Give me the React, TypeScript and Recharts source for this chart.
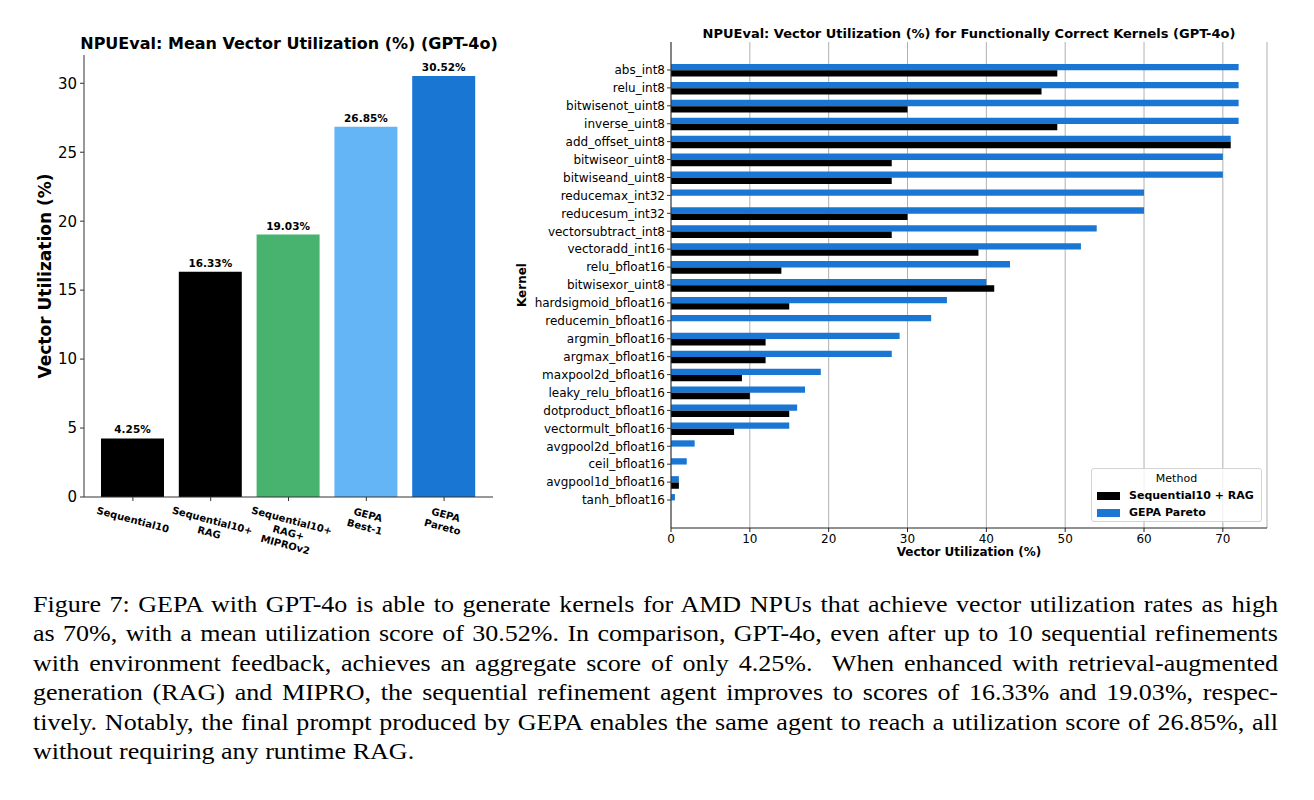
import * as React from 'react';
import {
    BarChart,
    Bar,
    XAxis,
    YAxis,
    CartesianGrid,
    Cell,
    LabelList,
    Label
} from 'recharts';

// left panel: mean utilisation per method
const methods = [
    'Sequential10',
    'Sequential10+\nRAG',
    'Sequential10+\nRAG+\nMIPROv2',
    'GEPA\nBest-1',
    'GEPA\nPareto'
];
const meanUtil = [4.25, 16.33, 19.03, 26.85, 30.52];
const meanTicks = [0, 5, 10, 15, 20, 25, 30];

// right panel: per-kernel utilisation
const kernels = [
    'abs_int8', 'relu_int8', 'bitwisenot_uint8', 'inverse_uint8', 'add_offset_uint8',
    'bitwiseor_uint8', 'bitwiseand_uint8', 'reducemax_int32', 'reducesum_int32',
    'vectorsubtract_int8', 'vectoradd_int16', 'relu_bfloat16', 'bitwisexor_uint8',
    'hardsigmoid_bfloat16', 'reducemin_bfloat16', 'argmin_bfloat16', 'argmax_bfloat16',
    'maxpool2d_bfloat16', 'leaky_relu_bfloat16', 'dotproduct_bfloat16', 'vectormult_bfloat16',
    'avgpool2d_bfloat16', 'ceil_bfloat16', 'avgpool1d_bfloat16', 'tanh_bfloat16'
];
const seqRag = [49, 47, 30, 49, 71, 28, 28, 0, 30, 28, 39, 14, 41, 15, 0, 12, 12, 9, 10, 15, 8, 0, 0, 1, 0];
const gepaPareto = [72, 72, 72, 72, 71, 70, 70, 60, 60, 54, 52, 43, 40, 35, 33, 29, 28, 19, 17, 16, 15, 3, 2, 1, 0.5];
const kernelTicks = [0, 10, 20, 30, 40, 50, 60, 70];
const seriesNames = ['Sequential10 + RAG', 'GEPA Pareto'];

const methodColors = ['#000000', '#000000', '#48b36e', '#64b5f6', '#1976d2'];
const seqColor = '#000000';
const gepaColor = '#1976d2';
const FONT = '"DejaVu Sans", sans-serif';

const meanData = methods.map((m, i) => ({ method: m, value: meanUtil[i] }));
const kernelData = kernels.map((k, i) => ({ kernel: k, seq: seqRag[i], gepa: gepaPareto[i] }));

const MethodTick = (props: any) => {
    const { x, y, payload } = props;
    const lines = String(payload.value).split('\n');
    const lh = 12.5;
    const a = (15 * Math.PI) / 180;
    const w = Math.max(...lines.map((l) => l.length)) * 6.2;
    const h = w * Math.sin(a) + lines.length * lh * Math.cos(a);
    return (
        <g transform={`translate(${x},${y + h / 2}) rotate(15)`}>
            {lines.map((l, i) => (
                <text
                    key={i}
                    x={0}
                    y={(i - (lines.length - 1) / 2) * lh}
                    textAnchor="middle"
                    dominantBaseline="central"
                    fontSize={10}
                    fontWeight="bold"
                    fontFamily={FONT}
                    fill="#000"
                >
                    {l}
                </text>
            ))}
        </g>
    );
};

const MeanChart = () => (
    <BarChart
        width={510}
        height={570}
        data={meanData}
        margin={{ top: 55, right: 17, bottom: 13, left: 44 }}
        style={{ fontFamily: FONT }}
    >
        <XAxis
            dataKey="method"
            interval={0}
            height={60}
            padding={{ left: 10, right: 10 }}
            tick={<MethodTick />}
            tickSize={4}
            tickMargin={3}
            axisLine={{ stroke: '#333' }}
            tickLine={{ stroke: '#333' }}
        />
        <XAxis
            xAxisId="top"
            orientation="top"
            dataKey="method"
            height={0}
            tick={false}
            tickLine={false}
            axisLine={{ stroke: '#333' }}
        />
        <YAxis
            width={40}
            domain={[0, 32.05]}
            ticks={meanTicks}
            tickSize={4}
            tickMargin={3}
            tick={{ fill: '#000', fontSize: 15 }}
            axisLine={{ stroke: '#333' }}
            tickLine={{ stroke: '#333' }}
        >
            <Label
                content={({ viewBox }: any) => {
                    const cx = 45;
                    const cy = viewBox.y + viewBox.height / 2;
                    return (
                        <text
                            x={cx}
                            y={cy}
                            transform={`rotate(-90, ${cx}, ${cy})`}
                            textAnchor="middle"
                            dominantBaseline="central"
                            fontSize={17}
                            fontWeight="bold"
                            fontFamily={FONT}
                            fill="#000"
                        >
                            Vector Utilization (%)
                        </text>
                    );
                }}
            />
        </YAxis>
        <YAxis
            yAxisId="right"
            orientation="right"
            width={0}
            domain={[0, 32.05]}
            tick={false}
            tickLine={false}
            axisLine={{ stroke: '#333' }}
        />
        <Bar dataKey="value" barSize={63} isAnimationActive={false}>
            {meanData.map((d, i) => (
                <Cell key={d.method} fill={methodColors[i]} />
            ))}
            <LabelList
                dataKey="value"
                position="top"
                offset={5}
                formatter={(v: any) => `${Number(v).toFixed(2)}%`}
                style={{ fontSize: 10.5, fontWeight: 'bold', fill: '#000', fontFamily: FONT }}
            />
        </Bar>
    </BarChart>
);

const KernelChart = () => (
    <BarChart
        layout="vertical"
        width={785}
        height={580}
        data={kernelData}
        margin={{ top: 42, right: 23, bottom: 22, left: 36 }}
        barGap={0}
        style={{ fontFamily: FONT }}
    >
        <XAxis
            type="number"
            domain={[0, 75.6]}
            ticks={kernelTicks}
            height={30}
            tickSize={4}
            tickMargin={2}
            tick={{ fill: '#000', fontSize: 12 }}
            axisLine={{ stroke: '#222' }}
            tickLine={{ stroke: '#222' }}
        >
            <Label
                content={({ viewBox }: any) => (
                    <text
                        x={viewBox.x + viewBox.width / 2}
                        y={552}
                        textAnchor="middle"
                        dominantBaseline="central"
                        fontSize={12}
                        fontWeight="bold"
                        fontFamily={FONT}
                        fill="#000"
                    >
                        Vector Utilization (%)
                    </text>
                )}
            />
        </XAxis>
        <YAxis
            type="category"
            dataKey="kernel"
            width={130}
            interval={0}
            padding={{ top: 19, bottom: 19 }}
            tickSize={4}
            tickMargin={2}
            tick={{ fill: '#000', fontSize: 12 }}
            axisLine={{ stroke: '#333' }}
            tickLine={{ stroke: '#333' }}
        >
            <Label
                content={({ viewBox }: any) => {
                    const cx = 17;
                    const cy = viewBox.y + viewBox.height / 2;
                    return (
                        <text
                            x={cx}
                            y={cy}
                            transform={`rotate(-90, ${cx}, ${cy})`}
                            textAnchor="middle"
                            dominantBaseline="central"
                            fontSize={12}
                            fontWeight="bold"
                            fontFamily={FONT}
                            fill="#000"
                        >
                            Kernel
                        </text>
                    );
                }}
            />
        </YAxis>
        <Bar dataKey="gepa" name={seriesNames[1]} fill={gepaColor} barSize={6.3} isAnimationActive={false} />
        <Bar dataKey="seq" name={seriesNames[0]} fill={seqColor} barSize={6.3} isAnimationActive={false} />
        <CartesianGrid horizontal={false} stroke="#b0b0b0" strokeWidth={1} />
    </BarChart>
);

const captionLines = [
    'Figure 7: GEPA with GPT-4o is able to generate kernels for AMD NPUs that achieve vector utilization rates as high',
    'as 70%, with a mean utilization score of 30.52%. In comparison, GPT-4o, even after up to 10 sequential refinements',
    'with environment feedback, achieves an aggregate score of only 4.25%.\u00a0 When enhanced with retrieval-augmented',
    'generation (RAG) and MIPRO, the sequential refinement agent improves to scores of 16.33% and 19.03%, respec-',
    'tively. Notably, the final prompt produced by GEPA enables the same agent to reach a utilization score of 26.85%, all',
    'without requiring any runtime RAG.'
];

const Legendbox = () => (
    <div
        style={{
            position: 'absolute',
            left: 1091,
            top: 468,
            width: 171,
            height: 54,
            boxSizing: 'border-box',
            border: '1px solid #d4d4d4',
            borderRadius: 3,
            background: 'rgba(255,255,255,0.8)',
            fontFamily: FONT,
            fontSize: 11,
            color: '#000'
        }}
    >
        <div style={{ position: 'absolute', left: 0, width: '100%', top: 3, textAlign: 'center', lineHeight: '14px' }}>
            Method
        </div>
        {[seqColor, gepaColor].map((c, i) => (
            <div key={i} style={{ position: 'absolute', left: 5, top: 20 + i * 17, height: 14, display: 'flex', alignItems: 'center' }}>
                <span style={{ display: 'inline-block', width: 23, height: 8, background: c, marginRight: 9 }} />
                <span style={{ fontWeight: 'bold', lineHeight: '14px' }}>{seriesNames[i]}</span>
            </div>
        ))}
    </div>
);

const CAPTION_SCALE = 1.085;

export default function App() {
    return (
        <div style={{ position: 'absolute', left: 0, top: 0, width: 1314, height: 800, background: '#fff', overflow: 'hidden' }}>
            <div
                style={{
                    position: 'absolute', left: 0, top: 35.5, width: 578, textAlign: 'center',
                    fontFamily: FONT, fontWeight: 'bold', fontSize: 16, lineHeight: '16px', color: '#000'
                }}
            >
                NPUEval: Mean Vector Utilization (%) (GPT-4o)
            </div>
            <div style={{ position: 'absolute', left: 0, top: 0 }}>
                <MeanChart />
            </div>
            <div
                style={{
                    position: 'absolute', left: 569, top: 27, width: 800, textAlign: 'center',
                    fontFamily: FONT, fontWeight: 'bold', fontSize: 13, lineHeight: '13px', color: '#000'
                }}
            >
                NPUEval: Vector Utilization (%) for Functionally Correct Kernels (GPT-4o)
            </div>
            <div style={{ position: 'absolute', left: 505, top: 0 }}>
                <KernelChart />
            </div>
            <Legendbox />
            <div
                style={{
                    position: 'absolute', left: 33, top: 590, width: 1245 / CAPTION_SCALE,
                    transform: `scaleX(${CAPTION_SCALE})`, transformOrigin: '0 0',
                    fontFamily: '"Liberation Serif", "Times New Roman", serif', fontSize: 24,
                    lineHeight: '29.4px', color: '#000'
                }}
            >
                {captionLines.map((l, i) => (
                    <div
                        key={i}
                        style={{
                            textAlign: 'justify',
                            textAlignLast: i < captionLines.length - 1 ? 'justify' : 'left',
                            whiteSpace: 'nowrap'
                        }}
                    >
                        {l}
                    </div>
                ))}
            </div>
        </div>
    );
}
